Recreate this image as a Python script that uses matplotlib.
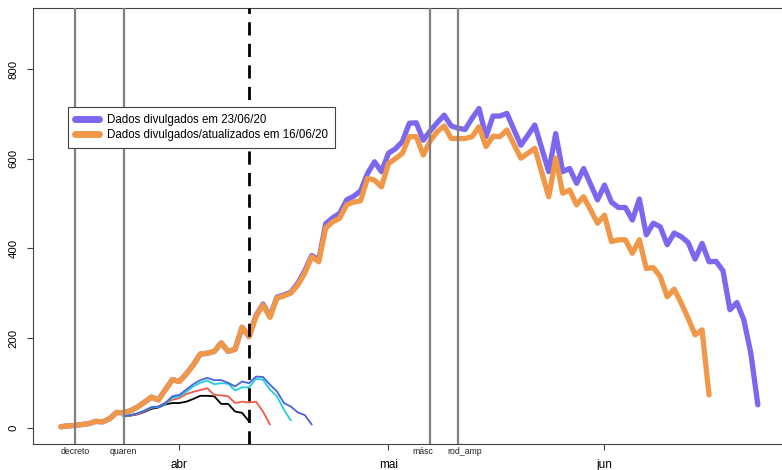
import matplotlib
matplotlib.use("Agg")
import matplotlib.pyplot as plt
import matplotlib.transforms as mtransforms
from matplotlib.lines import Line2D

plt.rcParams['font.family'] = ['Liberation Sans', 'DejaVu Sans']
plt.rcParams['lines.scale_dashes'] = False

# Day index: 0 = 1 March 2020
day_start = 14

# Series released 23/06/20 (daily values)
dados_2306 = [2, 4, 5, 7, 9, 14, 13, 20, 34, 33, 38, 46, 57, 68, 62, 85, 107, 103,
              120, 140, 164, 166, 170, 189, 170, 175, 224, 203, 250, 276, 248, 291,
              296, 302, 322, 350, 384, 374, 455, 468, 478, 508, 516, 528, 567, 593,
              571, 612, 622, 638, 679, 680, 641, 662, 680, 697, 673, 668, 665, 690,
              712, 649, 695, 695, 701, 665, 630, 652, 675, 623, 571, 656, 571, 578,
              545, 578, 543, 508, 541, 503, 491, 491, 463, 510, 430, 456, 448, 408,
              434, 426, 413, 376, 411, 370, 371, 350, 263, 279, 240, 166, 51]

# Series released/updated 16/06/20
dados_1606 = [2, 4, 5, 7, 9, 14, 13, 20, 34, 33, 38, 46, 57, 68, 62, 85, 107, 103,
              120, 140, 164, 166, 170, 189, 170, 175, 224, 203, 248, 274, 246, 289,
              294, 300, 318, 345, 381, 370, 445, 459, 467, 497, 503, 506, 556, 552,
              537, 589, 600, 612, 649, 649, 608, 640, 660, 673, 645, 645, 645, 649,
              671, 627, 650, 649, 664, 632, 601, 612, 623, 569, 515, 601, 523, 530,
              497, 515, 486, 456, 474, 415, 419, 419, 389, 419, 355, 357, 337, 292,
              309, 278, 244, 207, 218, 73]

# Earlier releases (thin lines), starting on day 23
older_start = 23
older_blue = [25, 28, 32, 38, 46, 47, 55, 70, 73, 85, 97, 106, 111, 106, 106, 100,
              92, 103, 99, 114, 113, 96, 81, 55, 47, 34, 28, 7]
older_cyan = [25, 28, 32, 38, 45, 46, 53, 67, 70, 80, 92, 100, 105, 97, 99, 98,
              83, 90, 90, 109, 107, 85, 70, 40, 16]
older_red = [25, 27, 30, 36, 44, 47, 56, 62, 66, 75, 80, 84, 88, 73, 72, 70, 55,
             58, 56, 58, 36, 7]
older_black = [25, 27, 30, 35, 42, 45, 52, 55, 55, 58, 64, 71, 71, 70, 53, 53, 36,
               33, 14]

# Event markers
event_days = [16, 23, 67, 71]
event_labels = ["decreto", "quaren", "másc", "rod_amp"]
cutoff_day = 41

month_days = [31, 61, 92]
month_labels = ["abr", "mai", "jun"]

legend_labels = ["Dados divulgados em 23/06/20",
                 "Dados divulgados/atualizados em 16/06/20"]

col_purple = "#7B68EE"
col_orange = "#F09848"

fig = plt.figure(figsize=(7.82, 4.70), dpi=100)
ax = fig.add_axes([33 / 782, (470 - 443.8) / 470, (785.7 - 33) / 782, 435.8 / 470])

def days(start, values):
    return list(range(start, start + len(values)))

thin = dict(lw=1.3, solid_joinstyle='round', solid_capstyle='round')
ax.plot(days(older_start, older_black), older_black, color="black", **thin)
ax.plot(days(older_start, older_red), older_red, color="#F05A4A", **thin)
ax.plot(days(older_start, older_cyan), older_cyan, color="#1FCFDA", **thin)
ax.plot(days(older_start, older_blue), older_blue, color="#4A63DC", **thin)

thick = dict(lw=3.8, solid_joinstyle='round', solid_capstyle='round')
ax.plot(days(day_start, dados_2306), dados_2306, color=col_purple, **thick)
ax.plot(days(day_start, dados_1606), dados_1606, color=col_orange, **thick)

for d in event_days:
    ax.axvline(d, color="#808080", lw=1.6, zorder=5)
ax.axvline(cutoff_day, color="black", lw=2.0, linestyle=(0, (9.5, 6.0)), zorder=6)

ax.set_xlim(10, 118)
ax.set_ylim(-36, 936)

ax.set_yticks([0, 200, 400, 600, 800])
ax.set_yticklabels(["0", "200", "400", "600", "800"], rotation=90, va='center')
ax.set_xticks(month_days)
ax.set_xticklabels(month_labels)
ax.tick_params(axis='y', length=4, width=0.8, color="#444444", pad=6.5, labelsize=8.2)
ax.tick_params(axis='x', length=4.5, width=0.8, color="#444444", pad=6.5, labelsize=8.5)
for s in ax.spines.values():
    s.set_color("#444444")
    s.set_linewidth(0.8)

# Event labels under the axis; the two close May labels are nudged apart
label_shift_pt = [0, 0, -5, 5]
trans = mtransforms.blended_transform_factory(ax.transData, fig.transFigure)
for d, lab, dx in zip(event_days, event_labels, label_shift_pt):
    ax.annotate(lab, xy=(d, (470 - 451) / 470), xycoords=trans,
                xytext=(dx, 0), textcoords='offset points',
                ha='center', va='center', fontsize=6.3, color="#222222",
                annotation_clip=False)

handles = [Line2D([], [], color=col_purple, lw=5, solid_capstyle='round'),
           Line2D([], [], color=col_orange, lw=5, solid_capstyle='round')]
leg = ax.legend(handles, legend_labels, loc='upper left',
                bbox_to_anchor=(68 / 782, 1 - 107 / 470), bbox_transform=fig.transFigure,
                fontsize=8.3, frameon=True, fancybox=False, framealpha=1,
                edgecolor="#444444", borderpad=0.6, labelspacing=0.3,
                handlelength=2.1, handletextpad=0.7, borderaxespad=0)
leg.get_frame().set_linewidth(0.8)
leg.set_zorder(10)

fig.savefig("out.png", dpi=100)
